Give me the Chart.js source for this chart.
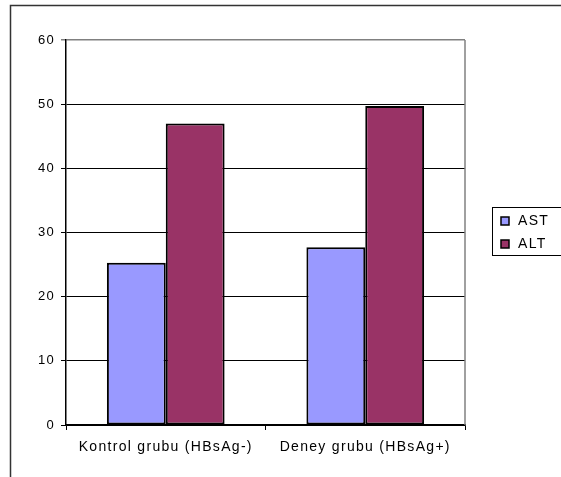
<!DOCTYPE html>
<html>
<head>
<meta charset="utf-8">
<script src="https://cdn.jsdelivr.net/npm/chart.js@4/dist/chart.umd.min.js"></script>
<style>
  html, body { margin: 0; padding: 0; background: #ffffff; }
  #wrap { position: relative; width: 561px; height: 477px; }
</style>
</head>
<body>
<div id="wrap"><canvas id="c" width="561" height="477"></canvas></div>
<script>
// Groups and mean enzyme levels
const categories = ['Kontrol grubu (HBsAg-)', 'Deney grubu (HBsAg+)'];
const seriesNames = ['AST', 'ALT'];
const astValues = [25.3, 27.7];
const altValues = [47.0, 49.7];
const yMin = 0;
const yMax = 60;
const yStep = 10;

const FONT = 'Liberation Sans, Arial, sans-serif';
const SPACING = '1.3px';

// Wider tracking for all canvas text
const spacingPlugin = {
  id: 'spacing',
  beforeUpdate(chart) { chart.ctx.letterSpacing = SPACING; },
  beforeDraw(chart) { chart.ctx.letterSpacing = SPACING; }
};

// Outer frame, plot border and boxed legend
const framePlugin = {
  id: 'frame',
  afterDraw(chart) {
    const ctx = chart.ctx;
    const a = chart.chartArea;
    ctx.save();
    // outer frame (top and left)
    ctx.strokeStyle = '#333333';
    ctx.lineWidth = 1.5;
    ctx.beginPath();
    ctx.moveTo(10.5, 477);
    ctx.lineTo(10.5, 5.5);
    ctx.lineTo(561, 5.5);
    ctx.stroke();
    // plot border on the right
    ctx.strokeStyle = '#808080';
    ctx.lineWidth = 1.5;
    ctx.beginPath();
    ctx.moveTo(a.right, a.top);
    ctx.lineTo(a.right, a.bottom);
    ctx.stroke();
    // legend box
    ctx.strokeStyle = '#000000';
    ctx.lineWidth = 1;
    ctx.strokeRect(492.5, 207.5, 80, 48);
    ctx.font = '14px ' + FONT;
    ctx.textBaseline = 'middle';
    ctx.textAlign = 'left';
    chart.data.datasets.forEach((ds, i) => {
      const y = 221 + i * 23;
      ctx.fillStyle = ds.backgroundColor;
      ctx.fillRect(501, y - 4, 8, 8);
      ctx.strokeStyle = '#000000';
      ctx.lineWidth = 1.5;
      ctx.strokeRect(501, y - 4, 8, 8);
      ctx.fillStyle = '#000000';
      ctx.fillText(ds.label, 518, y + 0.5);
    });
    ctx.restore();
  }
};

new Chart(document.getElementById('c'), {
  type: 'bar',
  data: {
    labels: categories,
    datasets: [
      {
        label: seriesNames[0],
        data: astValues,
        backgroundColor: '#9999FF',
        borderColor: '#000000',
        borderWidth: 2,
        borderSkipped: false
      },
      {
        label: seriesNames[1],
        data: altValues,
        backgroundColor: '#993366',
        borderColor: '#000000',
        borderWidth: 2,
        borderSkipped: false
      }
    ]
  },
  options: {
    responsive: false,
    animation: false,
    devicePixelRatio: 1,
    layout: { padding: { top: 40, right: 96, left: 10, bottom: 10 } },
    datasets: { bar: { categoryPercentage: 0.59, barPercentage: 1.0 } },
    plugins: {
      legend: { display: false },
      tooltip: { enabled: false }
    },
    scales: {
      x: {
        offset: true,
        afterFit(scale) { scale.height = 42; },
        grid: {
          offset: true,
          drawOnChartArea: false,
          drawTicks: true,
          tickLength: 5,
          color: '#000000',
          lineWidth: 1
        },
        border: { display: true, color: '#000000', width: 1.5 },
        ticks: {
          color: '#000000',
          font: { family: FONT, size: 14 },
          padding: 9,
          maxRotation: 0,
          autoSkip: false
        }
      },
      y: {
        min: yMin,
        max: yMax,
        afterFit(scale) { scale.width = 56; },
        grid: {
          color: (c) => (c.tick && c.tick.value === yMax ? '#808080' : '#000000'),
          lineWidth: (c) => (c.tick && c.tick.value === yMax ? 1.5 : 1),
          tickLength: 5,
          drawTicks: true
        },
        border: { display: true, color: '#000000', width: 1.5 },
        ticks: {
          stepSize: yStep,
          color: '#000000',
          font: { family: FONT, size: 13 },
          padding: 6
        }
      }
    }
  },
  plugins: [spacingPlugin, framePlugin]
});
</script>
</body>
</html>
